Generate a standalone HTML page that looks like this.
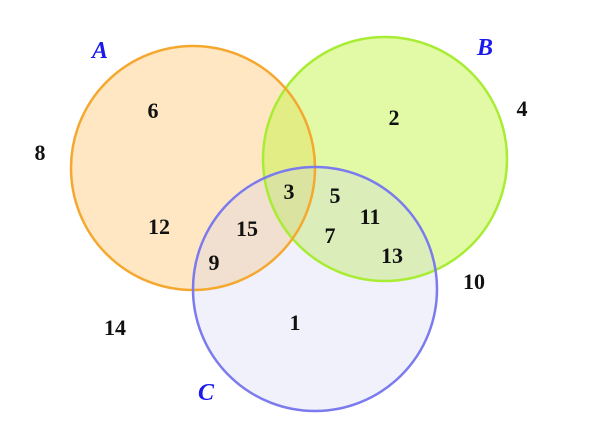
<!DOCTYPE html>
<html><head><meta charset="utf-8"><style>
html,body{margin:0;padding:0;background:#fff;}
svg text{font-family:"Liberation Serif",serif;font-weight:bold;font-size:22px;fill:#111;text-anchor:middle;}
svg text.l{fill:#1a1aee;font-style:italic;font-size:24px;}
</style></head><body>
<svg width="600" height="442" viewBox="0 0 600 442" xmlns="http://www.w3.org/2000/svg">
<circle cx="193" cy="168" r="122" fill="#ffc97a" fill-opacity="0.45"/>
<circle cx="385" cy="159" r="122" fill="#bff53a" fill-opacity="0.45"/>
<circle cx="315" cy="289" r="122" fill="#c8c8f5" fill-opacity="0.25"/>
<circle cx="385" cy="159" r="122" fill="none" stroke="#a8ec34" stroke-width="2.5"/>
<circle cx="193" cy="168" r="122" fill="none" stroke="#f5a830" stroke-width="2.5"/>
<circle cx="315" cy="289" r="122" fill="none" stroke="#7b7bee" stroke-width="2.5"/>
<text class="l" x="100" y="58">A</text>
<text class="l" x="485" y="55">B</text>
<text class="l" x="206" y="400">C</text>
<text x="153" y="118">6</text>
<text x="394" y="125">2</text>
<text x="522" y="116">4</text>
<text x="40" y="160">8</text>
<text x="159" y="234">12</text>
<text x="247" y="236">15</text>
<text x="289" y="199">3</text>
<text x="335" y="203">5</text>
<text x="370" y="224">11</text>
<text x="330" y="243">7</text>
<text x="392" y="263">13</text>
<text x="214" y="270">9</text>
<text x="474" y="289">10</text>
<text x="115" y="335">14</text>
<text x="295" y="330">1</text>
</svg>
</body></html>
